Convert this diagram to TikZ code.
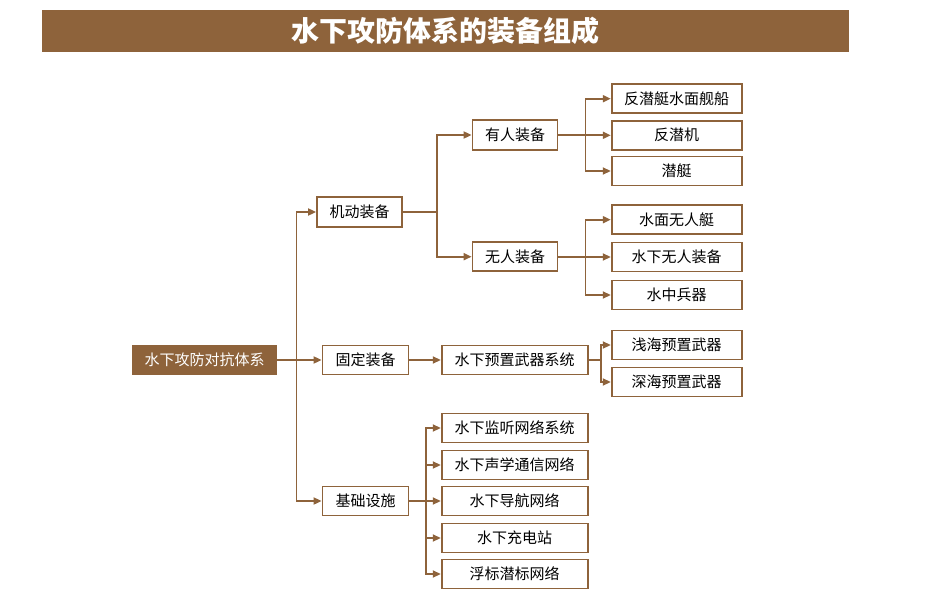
\documentclass[tikz,border=0pt]{standalone}
\usepackage{fontspec}
\setmainfont{Noto Sans CJK SC}
\usetikzlibrary{arrows.meta}
\definecolor{bark}{RGB}{142,99,59}

\begin{document}
\begin{tikzpicture}[x=1pt, y=-1pt,
  box/.style={draw=bark, line width=1.8pt, fill=white, inner sep=0pt,
    minimum height=29pt, font=\fontsize{15}{15}\selectfont},
  leaf/.style={box, minimum width=130pt},
  wide/.style={box, minimum width=146pt},
  link/.style={draw=bark, line width=1.8pt, -{Triangle[length=8pt,width=7pt]}}]
  \useasboundingbox (0,0) rectangle (934,599);
  % title bar
  \node[fill=bark, text=white, minimum width=807pt, minimum height=42pt, inner sep=0pt,
    font=\bfseries\fontsize{28}{28}\selectfont] (title) at (445.5,31) {水下攻防体系的装备组成};
  % root and first level
  \node[box, fill=bark, text=white, minimum width=143pt, minimum height=28pt] (root) at (204.5,360) {水下攻防对抗体系};
  \node[box, minimum width=85pt, minimum height=30pt] (mob) at (359.5,212) {机动装备};
  \node[box, minimum width=86pt] (fix) at (365.5,360) {固定装备};
  \node[box, minimum width=86pt] (base) at (365.5,501) {基础设施};
  % second level
  \node[box, minimum width=85pt, minimum height=30pt] (man) at (515,135) {有人装备};
  \node[box, minimum width=85pt] (unm) at (515,256.7) {无人装备};
  \node[wide] (pre) at (514.7,360) {水下预置武器系统};
  % leaves
  \node[leaf] (asw) at (676.7,98.7) {反潜艇水面舰船};
  \node[leaf] (air) at (676.7,135.3) {反潜机};
  \node[leaf] (sub) at (676.7,171) {潜艇};
  \node[leaf] (usv) at (676.7,219.7) {水面无人艇};
  \node[leaf] (uuv) at (676.7,257) {水下无人装备};
  \node[leaf] (wpn) at (676.7,295) {水中兵器};
  \node[leaf] (shal) at (676.7,345) {浅海预置武器};
  \node[leaf] (deep) at (676.7,382) {深海预置武器};
  \node[wide] (mon) at (514.7,428) {水下监听网络系统};
  \node[wide] (aco) at (514.7,465) {水下声学通信网络};
  \node[wide] (nav) at (514.7,501) {水下导航网络};
  \node[wide] (chg) at (514.7,538) {水下充电站};
  \node[wide] (buoy) at (514.7,574) {浮标潜标网络};
  % connectors
  \foreach \t in {mob,fix,base}
    \draw[link] (root.east) -- ++(19.5,0) |- (\t.west);
  \foreach \t in {man,unm}
    \draw[link] (mob.east) -- ++(34,0) |- (\t.west);
  \foreach \t in {asw,air,sub}
    \draw[link] (man.east) -- ++(27,0) |- (\t.west);
  \foreach \t in {usv,uuv,wpn}
    \draw[link] (unm.east) -- ++(27,0) |- (\t.west);
  \draw[link] (fix.east) -- (pre.west);
  \foreach \t in {shal,deep}
    \draw[link] (pre.east) -- ++(12,0) |- (\t.west);
  \foreach \t in {mon,aco,nav,chg,buoy}
    \draw[link] (base.east) -- ++(16.5,0) |- (\t.west);
\end{tikzpicture}
\end{document}
